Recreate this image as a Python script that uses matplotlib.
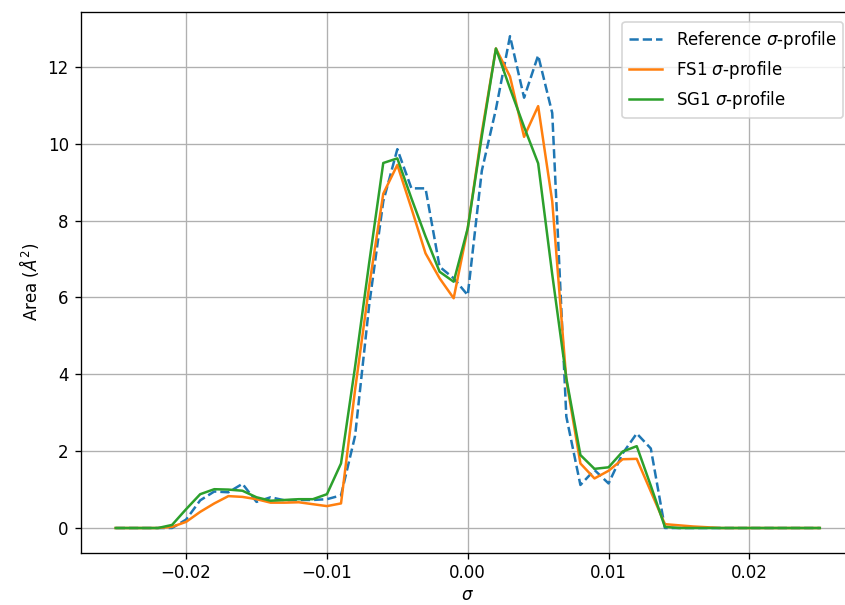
import matplotlib
matplotlib.use("Agg")
import matplotlib.pyplot as plt

# Screening charge density grid (e/Å^2)
sigma = [-0.025, -0.024, -0.023, -0.022, -0.021, -0.020, -0.019, -0.018, -0.017,
         -0.016, -0.015, -0.014, -0.013, -0.012, -0.011, -0.010, -0.009, -0.008,
         -0.007, -0.006, -0.005, -0.004, -0.003, -0.002, -0.001, 0.000, 0.001,
         0.002, 0.003, 0.004, 0.005, 0.006, 0.007, 0.008, 0.009, 0.010, 0.011,
         0.012, 0.013, 0.014, 0.015, 0.016, 0.017, 0.018, 0.019, 0.020, 0.021,
         0.022, 0.023, 0.024, 0.025]

# Reference sigma-profile
ref_area = [0, 0, 0, 0, 0.0, 0.22, 0.72, 0.95, 0.93,
            1.15, 0.68, 0.80, 0.72, 0.73, 0.73, 0.75, 0.85, 2.4,
            5.8, 8.5, 9.86, 8.84, 8.84, 6.8, 6.5, 6.06, 9.3,
            10.9, 12.8, 11.2, 12.3, 10.8, 2.9, 1.12, 1.51, 1.16, 1.94,
            2.46, 2.07, 0, 0, 0, 0, 0, 0, 0, 0,
            0, 0, 0, 0]

# FS1 sigma-profile
fs1_area = [0, 0, 0, 0, 0.03, 0.16, 0.42, 0.64, 0.83,
            0.81, 0.75, 0.66, 0.66, 0.67, 0.62, 0.57, 0.64, 3.6,
            6.3, 8.7, 9.45, 8.32, 7.15, 6.5, 5.98, 7.8, 10.3,
            12.48, 11.75, 10.18, 10.98, 8.5, 3.85, 1.68, 1.29, 1.49, 1.79,
            1.8, 0.95, 0.1, 0.07, 0.04, 0.02, 0, 0, 0, 0,
            0, 0, 0, 0]

# SG1 sigma-profile
sg1_area = [0, 0, 0, 0, 0.08, 0.49, 0.88, 1.01, 1.0,
            0.97, 0.8, 0.71, 0.73, 0.75, 0.75, 0.88, 1.68, 4.2,
            6.9, 9.5, 9.62, 8.58, 7.59, 6.67, 6.41, 7.8, 10.2,
            12.48, 11.44, 10.44, 9.49, 6.6, 3.9, 1.9, 1.54, 1.58, 1.99,
            2.13, 1.1, 0.03, 0, 0, 0, 0, 0, 0, 0,
            0, 0, 0, 0]

fig = plt.figure(figsize=(845 / 120, 605 / 120), dpi=120)
ax = fig.add_axes([80.5 / 845, 52.4 / 605, 774.5 / 845, 541 / 605])

ax.plot(sigma, ref_area, '--', label=r'Reference $\sigma$-profile')
ax.plot(sigma, fs1_area, label=r'FS1 $\sigma$-profile')
ax.plot(sigma, sg1_area, label=r'SG1 $\sigma$-profile')

ax.set_xlabel(r'$\sigma$', labelpad=2)
ax.set_ylabel(r'Area ($\AA^2$)')
ax.grid(True)
ax.legend(loc='upper right', bbox_to_anchor=(843 / 845, 1 - 22 / 605),
          bbox_transform=fig.transFigure, borderaxespad=0)

fig.savefig('out.png', dpi=120)
